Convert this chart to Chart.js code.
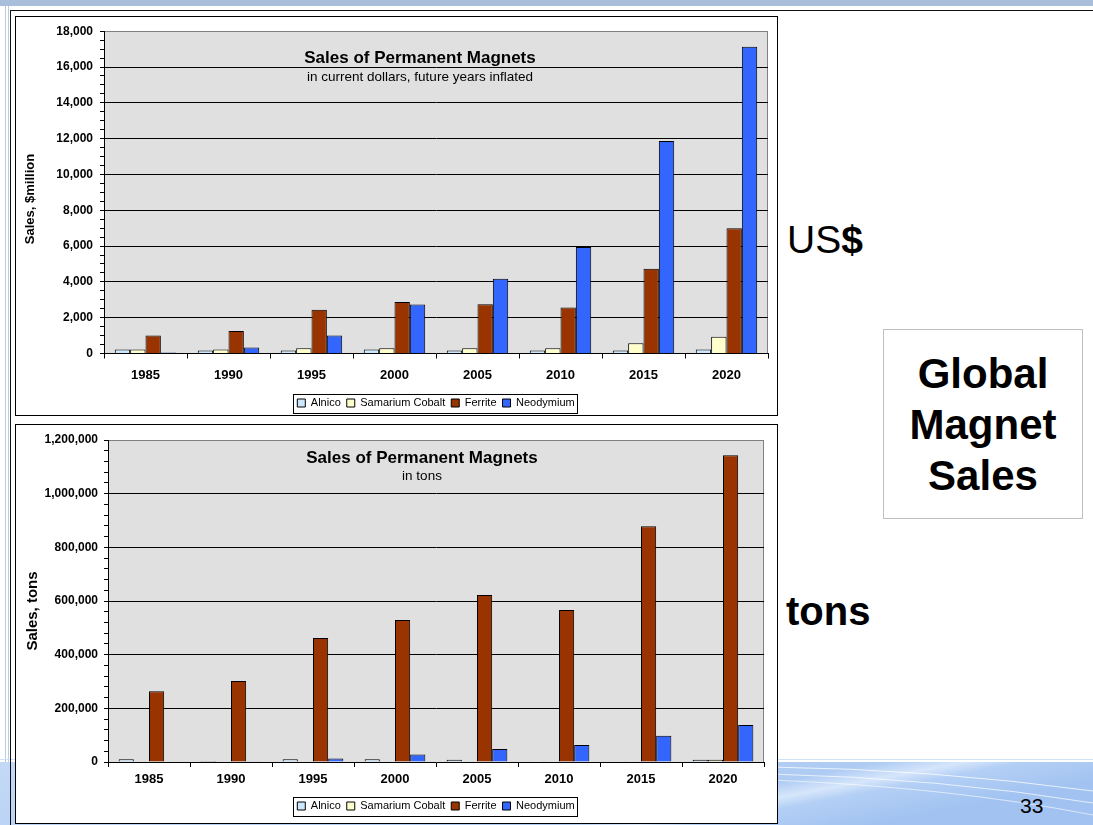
<!DOCTYPE html>
<html lang="en">
<head>
<meta charset="utf-8">
<title>Global Magnet Sales</title>
<script src="https://cdn.jsdelivr.net/npm/chart.js@4.4.1/dist/chart.umd.min.js"></script>
<style>
  html, body { margin: 0; padding: 0; }
  body {
    position: relative;
    width: 1093px;
    height: 825px;
    overflow: hidden;
    background: #fff;
    font-family: "Liberation Sans", Arial, sans-serif;
  }
  .abs { position: absolute; }
  #topBand { left: 0; top: 0; width: 1093px; height: 6px; background: #a8bedb; }
  #leftBand { left: 5px; top: 6px; width: 2px; height: 819px; border-left: 1px solid #b9cde8; border-right: 1px solid #b9cde8; }
  #frame { left: 10px; top: 10px; width: 1083px; height: 815px; border-top: 1px solid #111; border-left: 1px solid #111; }
  #footer { left: 0; top: 757px; }
  .chart-box { left: 15px; width: 761px; height: 398px; border: 1px solid #000; background: #fff; overflow: hidden; }
  .chart-box canvas { display: block; }
  #usdBox { top: 16px; }
  #tonBox { top: 424px; }
  .side-label { font-size: 39px; line-height: 39px; color: #000; white-space: nowrap; }
  #usdLabel { left: 787px; top: 220px; }
  #tonLabel { left: 786px; top: 591px; font-size: 40px; line-height: 40px; font-weight: bold; }
  #headline {
    left: 883px; top: 329px; width: 198px; height: 170px; padding-top: 18px;
    border: 1px solid #bfbfbf; text-align: center;
    font-size: 42px; line-height: 51px; font-weight: bold;
  }
  #pageNo { left: 1020px; top: 795px; font-size: 21px; line-height: 21px; }
</style>
</head>
<body>
<div id="topBand" class="abs"></div>
<div id="leftBand" class="abs"></div>
<svg id="footer" class="abs" width="1093" height="68" viewBox="0 0 1093 68">
  <defs>
    <linearGradient id="footerFill" x1="0" y1="0" x2="1" y2="0.3">
      <stop offset="0" stop-color="#c4d9f6"/>
      <stop offset="0.74" stop-color="#aecbf3"/>
      <stop offset="0.81" stop-color="#d6e6fb"/>
      <stop offset="0.86" stop-color="#b3cff5"/>
      <stop offset="1" stop-color="#a2c3f1"/>
    </linearGradient>
  </defs>
  <line x1="0" y1="2.5" x2="1093" y2="2.5" stroke="#cfe0f7" stroke-width="1"/>
  <rect x="0" y="5" width="1093" height="63" fill="url(#footerFill)"/>
  <path d="M 770 10 Q 930 12 1093 34" stroke="#ffffff" stroke-opacity="0.75" fill="none" stroke-width="1"/>
  <path d="M 770 17 Q 940 21 1093 46" stroke="#ffffff" stroke-opacity="0.7" fill="none" stroke-width="1"/>
  <path d="M 770 23 Q 950 30 1093 58" stroke="#ffffff" stroke-opacity="0.6" fill="none" stroke-width="1"/>
</svg>
<div id="frame" class="abs"></div>

<div id="usdBox" class="abs chart-box"><canvas id="usdChart" width="761" height="398"></canvas></div>
<div id="tonBox" class="abs chart-box"><canvas id="tonChart" width="761" height="398"></canvas></div>

<div id="usdLabel" class="abs side-label">US<b>$</b></div>
<div id="tonLabel" class="abs side-label">tons</div>
<div id="headline" class="abs">Global<br>Magnet<br>Sales</div>
<div id="pageNo" class="abs">33</div>

<script>
Chart.defaults.font.family = '"Liberation Sans", Arial, sans-serif';
Chart.defaults.color = '#000';

const years = ['1985', '1990', '1995', '2000', '2005', '2010', '2015', '2020'];
const seriesNames = ['Alnico', 'Samarium Cobalt', 'Ferrite', 'Neodymium'];
const seriesColors = ['#cce8ff', '#ffffcc', '#993300', '#3366ff'];

// sales, $ million
const alnicoUsd = [220, 170, 170, 220, 170, 170, 170, 230];
const smcoUsd = [220, 220, 290, 290, 290, 290, 570, 930];
const ferriteUsd = [1000, 1250, 2450, 2870, 2750, 2570, 4730, 7000];
const neoUsd = [60, 340, 1000, 2740, 4180, 5950, 11870, 17130];

// sales, tons
const alnicoTons = [10000, 4000, 10000, 10000, 8000, 3000, 3000, 8000];
const smcoTons = [0, 0, 3000, 3000, 0, 3000, 3000, 8000];
const ferriteTons = [264000, 302000, 462000, 529000, 622000, 566000, 879000, 1143000];
const neoTons = [0, 3000, 13000, 28000, 48000, 63000, 98000, 138000];

// y axis: top value, minor tick step, labelled step
const usdAxis = { max: 18000, step: 500, major: 2000 };
const tonAxis = { max: 1200000, step: 40000, major: 200000 };

const FONT = '"Liberation Sans", Arial, sans-serif';

// grey plot area with a light outline on top and right
const plotBackground = {
  id: 'plotBackground',
  beforeDraw(chart) {
    const { ctx, chartArea: { left, top, right, bottom } } = chart;
    ctx.save();
    ctx.fillStyle = '#e0e0e0';
    ctx.fillRect(left, top, right - left, bottom - top);
    ctx.strokeStyle = '#808080';
    ctx.lineWidth = 1;
    ctx.beginPath();
    ctx.moveTo(left, Math.round(top) + 0.5);
    ctx.lineTo(Math.round(right) - 0.5, Math.round(top) + 0.5);
    ctx.lineTo(Math.round(right) - 0.5, bottom);
    ctx.stroke();
    ctx.restore();
  }
};

// title, subtitle and rotated y title drawn straight on the canvas
const canvasText = {
  id: 'canvasText',
  afterDraw(chart, args, opts) {
    const ctx = chart.ctx;
    (opts.items || []).forEach(item => {
      ctx.save();
      ctx.font = item.font;
      ctx.fillStyle = '#000';
      ctx.textAlign = 'center';
      ctx.textBaseline = item.rotate ? 'middle' : 'alphabetic';
      ctx.translate(item.x, item.y);
      if (item.rotate) ctx.rotate(-Math.PI / 2);
      ctx.fillText(item.text, 0, 0);
      ctx.restore();
    });
  }
};

// black frame around the legend entries
const legendFrame = {
  id: 'legendFrame',
  afterDraw(chart) {
    const boxes = chart.legend && chart.legend.legendHitBoxes;
    if (!boxes || !boxes.length) return;
    const left = Math.min(...boxes.map(b => b.left)) - 4;
    const right = Math.max(...boxes.map(b => b.left + b.width)) + 3;
    const top = Math.min(...boxes.map(b => b.top)) - 4;
    const bottom = Math.max(...boxes.map(b => b.top + b.height)) + 4;
    const ctx = chart.ctx;
    ctx.save();
    ctx.strokeStyle = '#000';
    ctx.lineWidth = 1;
    ctx.strokeRect(Math.round(left) + 0.5, Math.round(top) + 0.5, Math.round(right - left), Math.round(bottom - top));
    ctx.restore();
  }
};

function makeChart(canvasId, series, axis, frame, texts) {
  const datasets = seriesNames.map((name, i) => ({
    label: name,
    data: series[i],
    backgroundColor: seriesColors[i],
    borderColor: '#000',
    borderWidth: 1,
    categoryPercentage: 0.74,
    barPercentage: 1.0
  }));

  return new Chart(document.getElementById(canvasId), {
    type: 'bar',
    data: { labels: years, datasets: datasets },
    options: {
      responsive: false,
      animation: false,
      layout: { padding: frame.padding },
      scales: {
        x: {
          afterFit(scale) { scale.height = frame.xHeight; },
          border: { color: '#000', width: 1 },
          grid: { offset: true, drawOnChartArea: false, color: '#000', tickLength: 5 },
          ticks: { padding: frame.xPad, maxRotation: 0, font: { size: 13, weight: 'bold' } }
        },
        y: {
          min: 0,
          max: axis.max,
          afterFit(scale) { scale.width = frame.yWidth; },
          border: { color: '#000', width: 1 },
          grid: {
            color: c => {
              if (!c.tick) return 'rgba(0,0,0,0)';
              if (c.tick.value === axis.max) return '#808080';
              return c.tick.value > 0 && c.tick.value % axis.major === 0 ? '#000' : 'rgba(0,0,0,0)';
            },
            tickColor: '#000',
            tickLength: 4
          },
          ticks: {
            stepSize: axis.step,
            maxTicksLimit: 200,
            autoSkip: false,
            padding: frame.yPad,
            font: { size: 12, weight: 'bold' },
            callback: v => (v % axis.major === 0 ? v.toLocaleString('en-US') : '')
          }
        }
      },
      plugins: {
        legend: {
          position: 'bottom',
          fullSize: false,
          labels: { boxWidth: 8, boxHeight: 8, padding: 6, font: { size: 11 } }
        },
        tooltip: { enabled: false },
        canvasText: { items: texts }
      }
    },
    plugins: [plotBackground, canvasText, legendFrame]
  });
}

makeChart('usdChart',
  [alnicoUsd, smcoUsd, ferriteUsd, neoUsd],
  usdAxis,
  { padding: { top: 11, right: 9, bottom: -3.5, left: 0 }, xHeight: 38, yWidth: 88, xPad: 9, yPad: 7 },
  [
    { text: 'Sales of Permanent Magnets', x: 404, y: 46, font: 'bold 17px ' + FONT },
    { text: 'in current dollars, future years inflated', x: 404, y: 64, font: '13.5px ' + FONT },
    { text: 'Sales, $million', x: 14, y: 182, font: 'bold 13px ' + FONT, rotate: true }
  ]);

makeChart('tonChart',
  [alnicoTons, smcoTons, ferriteTons, neoTons],
  tonAxis,
  { padding: { top: 15, right: 13, bottom: 1.5, left: 0 }, xHeight: 32.5, yWidth: 92, xPad: 5, yPad: 6 },
  [
    { text: 'Sales of Permanent Magnets', x: 406, y: 38, font: 'bold 17px ' + FONT },
    { text: 'in tons', x: 406, y: 55, font: '13.5px ' + FONT },
    { text: 'Sales, tons', x: 17, y: 186, font: 'bold 15px ' + FONT, rotate: true }
  ]);
</script>
</body>
</html>
